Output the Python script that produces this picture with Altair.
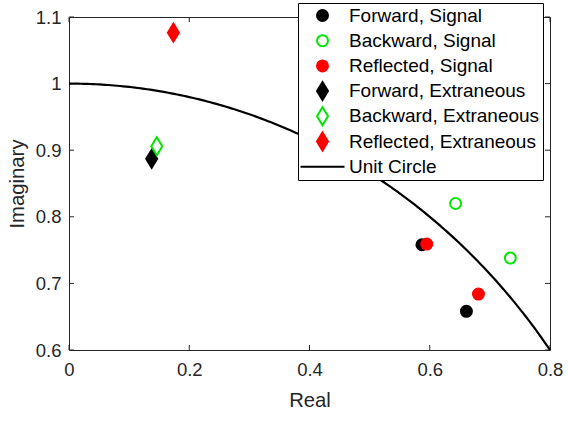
import altair as alt
import numpy as np
import pandas as pd

# ---- data ----
series_names = ["Forward, Signal", "Backward, Signal", "Reflected, Signal",
                "Forward, Extraneous", "Backward, Extraneous", "Reflected, Extraneous",
                "Unit Circle"]

fwd_sig_re = [0.587, 0.661]
fwd_sig_im = [0.758, 0.658]
bwd_sig_re = [0.643, 0.734]
bwd_sig_im = [0.820, 0.738]
ref_sig_re = [0.595, 0.681]
ref_sig_im = [0.759, 0.684]
fwd_ext_re = [0.1375]
fwd_ext_im = [0.887]
bwd_ext_re = [0.146]
bwd_ext_im = [0.906]
ref_ext_re = [0.1736]
ref_ext_im = [1.0765]

x_ticks = [0, 0.2, 0.4, 0.6, 0.8]
y_ticks = [0.6, 0.7, 0.8, 0.9, 1.0, 1.1]

# unit circle (x^2 + y^2 = 1) over the visible range
circle_re = np.linspace(0, 0.8, 161)
circle_im = np.sqrt(1 - circle_re ** 2)

# ---- tables ----
groups = [
    (series_names[0], fwd_sig_re, fwd_sig_im),
    (series_names[1], bwd_sig_re, bwd_sig_im),
    (series_names[2], ref_sig_re, ref_sig_im),
    (series_names[3], fwd_ext_re, fwd_ext_im),
    (series_names[4], bwd_ext_re, bwd_ext_im),
    (series_names[5], ref_ext_re, ref_ext_im),
]
rows = []
for name, xs, ys in groups:
    for a, b in zip(xs, ys):
        rows.append({"series": name, "re": a, "im": b})
pts = pd.DataFrame(rows)
circ = pd.DataFrame({"re": circle_re, "im": circle_im})
xt = pd.DataFrame({"t": x_ticks})
yt = pd.DataFrame({"t": y_ticks})

GREEN = "#00e600"
DIAMOND = "M0,-1.64L1,0L0,1.64L-1,0Z"
LINE = "M-4,0H4"
shape_range = ["circle", "circle", "circle", DIAMOND, DIAMOND, DIAMOND, LINE]
stroke_range = ["black", GREEN, "red", "black", GREEN, "red", "black"]
fill_range = ["black", "transparent", "red", "black", "transparent", "red", "transparent"]

W, H = 481, 333
FONT = "Liberation Sans"

xscale = alt.Scale(domain=[0, 0.8], nice=False, zero=False)
yscale = alt.Scale(domain=[0.6, 1.1], nice=False, zero=False)

legend = alt.Legend(
    title=None, orient="none", legendX=229, legendY=-14,
    padding=3, fillColor="white", strokeColor="black",
    labelFont=FONT, labelFontSize=19, labelColor="black",
    symbolSize=121, symbolStrokeWidth=2, rowPadding=-1.8, gridAlign="all",
    symbolOffset=12, labelOffset=17, labelLimit=400,
)

x_enc = alt.X("re:Q", scale=xscale,
              axis=alt.Axis(values=x_ticks, format="~g", title="Real"))
y_enc = alt.Y("im:Q", scale=yscale,
              axis=alt.Axis(values=y_ticks, format="~g", title="Imaginary"))

points = alt.Chart(pts).mark_point(size=121, strokeWidth=2, opacity=1).encode(
    x=x_enc, y=y_enc,
    shape=alt.Shape("series:N", scale=alt.Scale(domain=series_names, range=shape_range), legend=legend),
    stroke=alt.Stroke("series:N", scale=alt.Scale(domain=series_names, range=stroke_range), legend=legend),
    fill=alt.Fill("series:N", scale=alt.Scale(domain=series_names, range=fill_range), legend=legend),
)

line = alt.Chart(circ).mark_line(color="black", strokeWidth=2.2).encode(
    x="re:Q", y="im:Q"
)

tick_color = "#262626"
xt_bottom = alt.Chart(xt).mark_rule(color=tick_color).encode(
    x="t:Q", y=alt.value(H), y2=alt.value(H - 5))
xt_top = alt.Chart(xt).mark_rule(color=tick_color).encode(
    x="t:Q", y=alt.value(0), y2=alt.value(5))
yt_left = alt.Chart(yt).mark_rule(color=tick_color).encode(
    y="t:Q", x=alt.value(0), x2=alt.value(5))
yt_right = alt.Chart(yt).mark_rule(color=tick_color).encode(
    y="t:Q", x=alt.value(W), x2=alt.value(W - 5))

chart = alt.layer(xt_bottom, xt_top, yt_left, yt_right, points, line).properties(
    width=W, height=H,
    padding={"left": 69, "top": 17, "right": 18, "bottom": 71},
    autosize=alt.AutoSizeParams(type="none"),
    background="white",
).configure_view(
    stroke="#262626", strokeWidth=1
).configure_axis(
    grid=False, domain=False, ticks=False, labelFlush=False,
    labelFont=FONT, labelFontSize=18.5, labelColor="#262626",
    titleFont=FONT, titleFontSize=20.3, titleFontWeight="normal", titleColor="#262626",
).configure_axisX(
    labelPadding=10, titlePadding=12,
).configure_axisY(
    labelPadding=8, titlePadding=8,
)

chart.save("out.html", embed_options={"renderer": "svg", "actions": False})
